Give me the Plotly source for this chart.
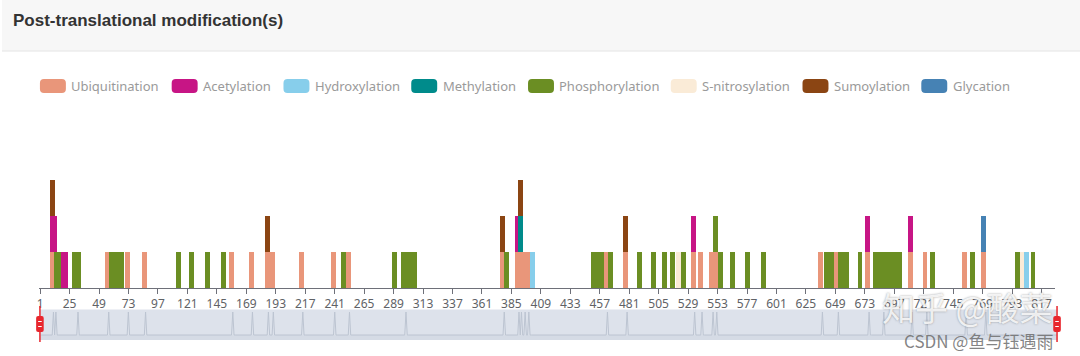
import plotly.graph_objects as go

# ---------------- data ----------------
series_names = ["Ubiquitination", "Acetylation", "Hydroxylation", "Methylation",
                "Phosphorylation", "S-nitrosylation", "Sumoylation", "Glycation"]
series_colors = ["#e9967a", "#c71585", "#87ceeb", "#008b8b",
                 "#6b8e23", "#faebd7", "#8b4513", "#4682b4"]

ubiquitination = [11, 13, 31, 56, 72, 86, 157, 173, 186, 190, 214, 240, 252, 298, 378,
                  390, 392, 395, 398, 462, 478, 533, 539, 548, 551, 637, 650, 675, 687,
                  710, 722, 754, 770]
acetylation = [11, 13, 20, 22, 390, 533, 675, 710]
hydroxylation = [402, 805]
methylation = [392]
phosphorylation = [14, 16, 29, 32, 59, 63, 67, 114, 124, 137, 150, 248, 290, 297, 300,
                   303, 306, 381, 452, 455, 458, 466, 489, 501, 510, 516, 525, 551, 555,
                   565, 577, 590, 642, 646, 653, 656, 658, 669, 682, 686, 689, 693, 697,
                   701, 728, 761, 797, 810]
s_nitrosylation = [521, 801]
sumoylation = [11, 186, 378, 392, 478]
glycation = [770]

series_positions = [ubiquitination, acetylation, hydroxylation, methylation,
                    phosphorylation, s_nitrosylation, sumoylation, glycation]

n_residues = 828
tick_values = list(range(1, 818, 24))
tick_labels = [str(v) for v in tick_values]

# ---------------- layout helpers ----------------
W, H = 1080, 356


def fx(p):
    return p / W


def fy(p):
    return 1 - p / H


def rounded_rect(x0, y0, x1, y1, r):
    rx, ry = r / W, r / H
    X0, X1 = fx(x0), fx(x1)
    Y0, Y1 = fy(y1), fy(y0)  # bottom, top in paper
    return (f"M{X0+rx},{Y0} L{X1-rx},{Y0} Q{X1},{Y0} {X1},{Y0+ry} "
            f"L{X1},{Y1-ry} Q{X1},{Y1} {X1-rx},{Y1} L{X0+rx},{Y1} "
            f"Q{X0},{Y1} {X0},{Y1-ry} L{X0},{Y0+ry} Q{X0},{Y0} {X0+rx},{Y0} Z")


fig = go.Figure()

for name, color, pos in zip(series_names, series_colors, series_positions):
    fig.add_trace(go.Bar(
        x=pos, y=[1] * len(pos), width=4, name=name,
        marker=dict(color=color, line=dict(width=0)),
        xaxis="x", yaxis="y", showlegend=False,
    ))

# data shadow in the zoom slider (from the first series)
residues = list(range(1, n_residues + 1))
ub_set = set(ubiquitination)
shadow = [1 if r in ub_set else 0 for r in residues]
fig.add_trace(go.Scatter(
    x=residues, y=shadow, mode="lines",
    line=dict(color="#bcc4d1", width=1),
    xaxis="x2", yaxis="y2", hoverinfo="skip", showlegend=False,
))

axis_col = "#6e7079"
shapes = []
# header
shapes.append(dict(type="rect", xref="paper", yref="paper", x0=0, x1=1, y0=fy(51), y1=1,
                   fillcolor="#f7f7f7", line=dict(width=0), layer="below"))
shapes.append(dict(type="line", xref="paper", yref="paper", x0=0, x1=1, y0=fy(51), y1=fy(51),
                   line=dict(color="#e4e4e4", width=1), layer="below"))
# slider band
sl_x0, sl_x1, sl_y0, sl_y1 = 38, 1057, 309.5, 340
shapes.append(dict(type="rect", xref="paper", yref="paper", x0=fx(sl_x0), x1=fx(sl_x1),
                   y0=fy(sl_y1), y1=fy(sl_y0), fillcolor="#dde2eb", line=dict(width=0),
                   layer="below"))
shapes.append(dict(type="rect", xref="paper", yref="paper", x0=fx(sl_x0), x1=fx(sl_x1),
                   y0=fy(sl_y1), y1=fy(335), fillcolor="#d5dbe5", line=dict(width=0),
                   layer="below"))
# slider handles
for hx in (sl_x0, sl_x1):
    shapes.append(dict(type="line", xref="paper", yref="paper", x0=fx(hx), x1=fx(hx),
                       y0=fy(342), y1=fy(306), line=dict(color="#e8262d", width=1.5)))
    shapes.append(dict(type="path", xref="paper", yref="paper",
                       path=rounded_rect(hx - 3.8, 316, hx + 3.8, 332, 2),
                       fillcolor="#e8262d", line=dict(width=0)))
    for ly in (321.5, 326.5):
        shapes.append(dict(type="line", xref="paper", yref="paper", x0=fx(hx - 1.8),
                           x1=fx(hx + 1.8), y0=fy(ly), y1=fy(ly),
                           line=dict(color="white", width=1)))

# legend
legend_lefts = [38, 170, 282, 410, 527, 670, 802, 921]
annotations = []
for left, name, color in zip(legend_lefts, series_names, series_colors):
    shapes.append(dict(type="path", xref="paper", yref="paper",
                       path=rounded_rect(left, 79, left + 26, 93, 4),
                       fillcolor=color, line=dict(width=0)))
    annotations.append(dict(x=fx(left + 29.5), y=fy(86), xref="paper", yref="paper",
                            text=name, showarrow=False, xanchor="left", yanchor="middle",
                            font=dict(family="Noto Sans", size=13, color="#9a9a9a")))

annotations.append(dict(x=fx(9.5), y=fy(21), xref="paper", yref="paper",
                        text="<b>Post-translational modification(s)</b>", showarrow=False,
                        xanchor="left", yanchor="middle",
                        font=dict(family="Liberation Sans", size=17, color="#333333")))
# watermarks
annotations.append(dict(x=fx(967), y=fy(307), xref="paper", yref="paper",
                        text="知乎 @酸菜", showarrow=False, xanchor="center", yanchor="middle",
                        font=dict(family="Noto Sans CJK SC", size=33,
                                  color="rgba(255,255,255,0.85)",
                                  shadow="0px 0px 2px rgba(60,60,60,0.6)")))
annotations.append(dict(x=fx(978), y=fy(340), xref="paper", yref="paper",
                        text="CSDN @鱼与钰遇雨", showarrow=False, xanchor="center",
                        yanchor="middle",
                        font=dict(family="Noto Sans CJK SC", size=17,
                                  color="rgba(110,110,110,0.85)")))

fig.update_layout(
    width=W, height=H, margin=dict(l=0, r=0, t=0, b=0),
    paper_bgcolor="white", plot_bgcolor="rgba(0,0,0,0)",
    barmode="stack", bargap=0, showlegend=False,
    xaxis=dict(domain=[fx(37), fx(1055)], range=[0, n_residues], anchor="y",
               tickmode="array", tickvals=tick_values, ticktext=tick_labels,
               showline=True, linecolor=axis_col, linewidth=1,
               ticks="outside", ticklen=5, tickcolor=axis_col, tickwidth=1,
               tickfont=dict(family="Noto Sans", size=12, color="#606266"),
               showgrid=False, zeroline=False, fixedrange=True),
    yaxis=dict(domain=[fy(288), fy(108)], range=[0, 5], visible=False, fixedrange=True),
    xaxis2=dict(domain=[fx(sl_x0), fx(sl_x1)], range=[0, n_residues], anchor="y2",
                visible=False, fixedrange=True),
    yaxis2=dict(domain=[fy(sl_y1), fy(sl_y0)], range=[-0.2175, 1.109], anchor="x2",
                visible=False, fixedrange=True),
    shapes=shapes, annotations=annotations,
)

fig.write_html(
    "out.html",
    config={"displayModeBar": False},
    post_script="document.body.style.margin='0px';document.body.style.overflow='hidden';",
)
